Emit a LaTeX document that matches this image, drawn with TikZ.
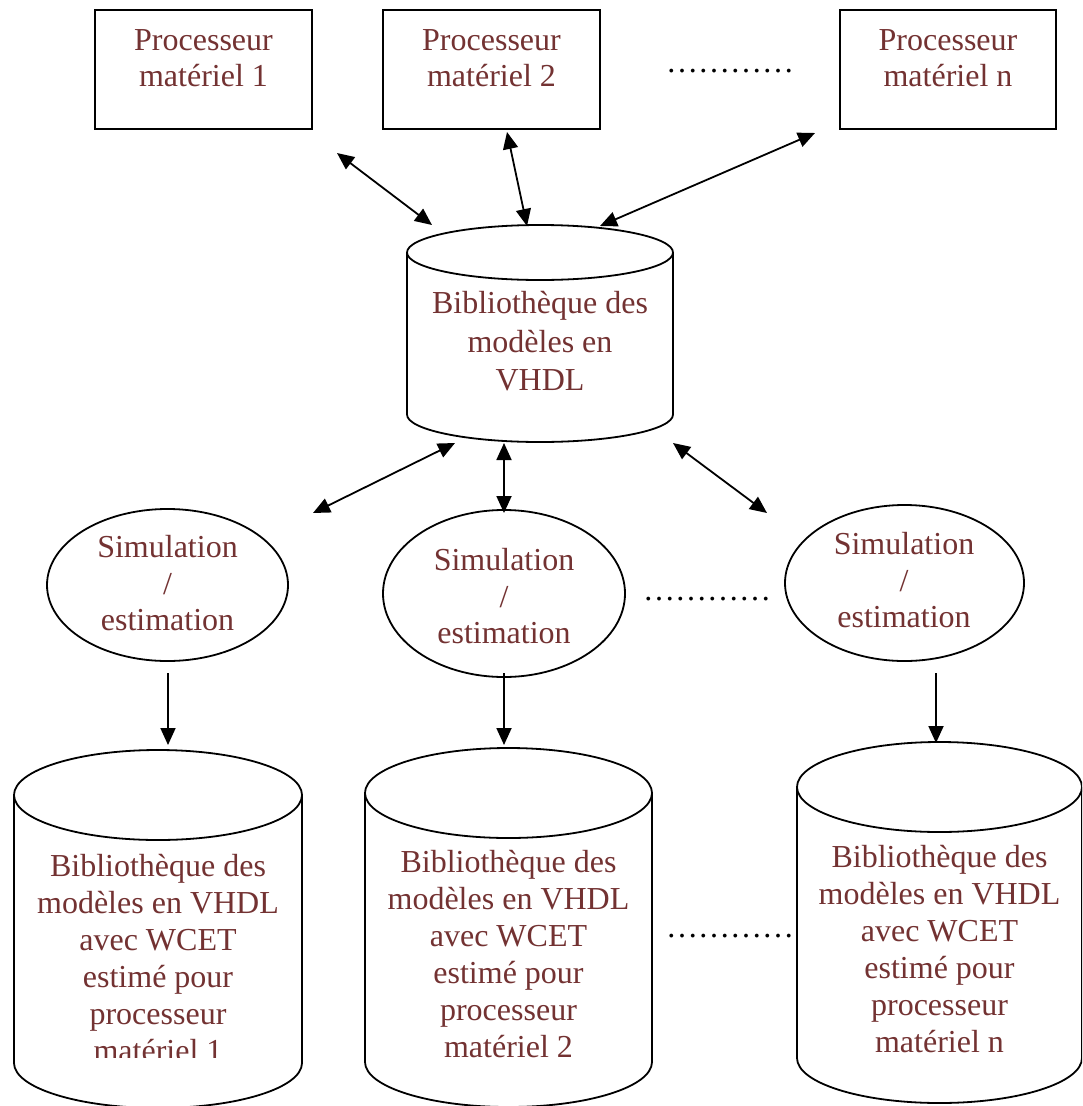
\documentclass[tikz,border=0pt]{standalone}
\usepackage{fontspec}
\setmainfont{Liberation Serif}
\usetikzlibrary{arrows.meta,shapes.geometric}
\definecolor{labelred}{RGB}{115,50,50}

% database drum: name, centre x, top y, bottom y, x radius, y radius
\newcommand\dbdrum[6]{%
  \draw[drumline] (#2-#5,#3) -- (#2-#5,#4)
    arc[start angle=180,end angle=0,x radius=#5,y radius=#6] -- (#2+#5,#3);
  \draw[drumline] (#2,#3) ellipse[x radius=#5,y radius=#6];
  \coordinate (#1) at (#2,{(#3+#4)/2});
}

\tikzset{
  procbox/.style={draw, rectangle, line width=2.7pt, minimum width=217pt,
    minimum height=119pt, inner sep=0pt},
  simell/.style={draw, ellipse, line width=1.8pt, inner sep=0pt},
  drumline/.style={line width=1.8pt, fill=white},
  lbl/.style={text=labelred, align=center, inner sep=0pt},
  dotrow/.style={font=\fontsize{32}{37}\selectfont, inner sep=0pt, anchor=base},
  link/.style={line width=1.8pt, {Triangle[length=17pt,width=15pt]}-{Triangle[length=17pt,width=15pt]}},
  feed/.style={line width=1.8pt, -{Triangle[length=17pt,width=15pt]}},
}

\begin{document}
\begin{tikzpicture}[x=1pt,y=-1pt]
\clip (0,0) rectangle (1082,1106);
\fill[white] (0,0) rectangle (1082,1106);

% hardware processors
\node[procbox] (p1) at (203.5,69.5) {};
\node[procbox] (p2) at (491.5,69.5) {};
\node[procbox, minimum width=216pt] (pn) at (948,69.5) {};
\node[lbl, font=\fontsize{32}{36}\selectfont] (p1t) at (203.5,58) {Processeur\\matériel 1};
\node[lbl, font=\fontsize{32}{36}\selectfont] (p2t) at (491.5,58) {Processeur\\matériel 2};
\node[lbl, font=\fontsize{32}{36}\selectfont] (pnt) at (948,58) {Processeur\\matériel n};
\node[dotrow] (dtop) at (730,72) {…………};

% central VHDL model library
\dbdrum{lib}{540}{252.5}{414.5}{133}{27.5}
\node[lbl, font=\fontsize{32}{38.5}\selectfont] (libt) at (540,341.5)
  {Bibliothèque des\\modèles en\\VHDL};

% simulation / estimation
\node[simell, minimum width=241pt, minimum height=152pt] (e1) at (167.5,585) {};
\node[simell, minimum width=242pt, minimum height=167pt] (e2) at (504,593.5) {};
\node[simell, minimum width=239pt, minimum height=156pt] (e3) at (904.5,583) {};
\node[lbl, font=\fontsize{32}{36.5}\selectfont] (e1t) at (167.5,583.5) {Simulation\\/\\estimation};
\node[lbl, font=\fontsize{32}{36.5}\selectfont] (e2t) at (504,596.5) {Simulation\\/\\estimation};
\node[lbl, font=\fontsize{32}{36.5}\selectfont] (e3t) at (904,580.5) {Simulation\\/\\estimation};
\node[dotrow] (dmid) at (707,600) {…………};

% per-processor WCET libraries
\dbdrum{c1}{158}{795}{1063}{144}{45}
\dbdrum{c2}{508.5}{793}{1062}{143.5}{45}
\dbdrum{c3}{939.5}{787}{1058}{142.5}{45}
\begin{scope}
  \clip (0,0) rectangle (1082,1057);
  \node[lbl, font=\fontsize{32}{37}\selectfont] (c1t) at (158,958)
    {Bibliothèque des\\modèles en VHDL\\avec WCET\\estimé pour\\processeur\\matériel 1};
\end{scope}
\node[lbl, font=\fontsize{32}{37}\selectfont] (c2t) at (508.5,954.5)
  {Bibliothèque des\\modèles en VHDL\\avec WCET\\estimé pour\\processeur\\matériel 2};
\node[lbl, font=\fontsize{32}{37}\selectfont] (c3t) at (939.5,949.5)
  {Bibliothèque des\\modèles en VHDL\\avec WCET\\estimé pour\\processeur\\matériel n};
\node[dotrow] (dbot) at (730,937) {…………};

% connector end points
\coordinate (a1s) at (337,153);  \coordinate (a1e) at (432,225);
\coordinate (a2s) at (507,132);  \coordinate (a2e) at (527,226);
\coordinate (a3s) at (815,133);  \coordinate (a3e) at (600,226);
\coordinate (b1s) at (455,443);  \coordinate (b1e) at (313,513);
\coordinate (b2s) at (504,443);  \coordinate (b2e) at (504,513);
\coordinate (b3s) at (673,443);  \coordinate (b3e) at (767,513);
\coordinate (d1s) at (168,673);  \coordinate (d1e) at (168,745);
\coordinate (d2s) at (504,673);  \coordinate (d2e) at (504,745);
\coordinate (d3s) at (936,673);  \coordinate (d3e) at (936,743);

% processors <-> library
\draw[link] (a1s) -- (a1e);
\draw[link] (a2s) -- (a2e);
\draw[link] (a3s) -- (a3e);
% library <-> simulation
\draw[link] (b1s) -- (b1e);
\draw[link] (b2s) -- (b2e);
\draw[link] (b3s) -- (b3e);
% simulation -> WCET libraries
\draw[feed] (d1s) -- (d1e);
\draw[feed] (d2s) -- (d2e);
\draw[feed] (d3s) -- (d3e);
\end{tikzpicture}
\end{document}
